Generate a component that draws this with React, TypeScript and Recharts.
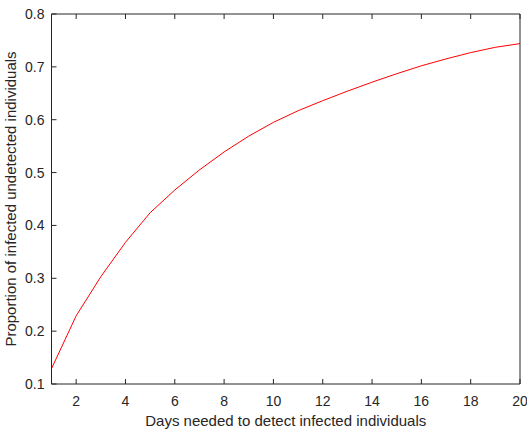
import React from 'react';
import { LineChart, Line, XAxis, YAxis } from 'recharts';

// days needed to detect, and the proportion still undetected
const days = [1, 2, 3, 4, 5, 6, 7, 8, 9, 10, 11, 12, 13, 14, 15, 16, 17, 18, 19, 20];
const proportion = [
  0.129, 0.229, 0.303, 0.368, 0.424, 0.467, 0.505, 0.539, 0.569, 0.595,
  0.617, 0.636, 0.654, 0.671, 0.687, 0.702, 0.715, 0.727, 0.737, 0.744,
];
const xTicks = [2, 4, 6, 8, 10, 12, 14, 16, 18, 20];
const yTicks = [0.1, 0.2, 0.3, 0.4, 0.5, 0.6, 0.7, 0.8];

const xLabel = 'Days needed to detect infected individuals';
const yLabel = 'Proportion of infected undetected individuals';

const data = days.map((d, i) => ({ day: d, value: proportion[i] }));

const axisColor = '#262626';
const font = '"Liberation Sans", Arial, Helvetica, sans-serif';

const YTitle = (props: any) => {
  const { x, y, height } = props.viewBox;
  const cx = x + 16;
  const cy = y + height / 2;
  return (
    <text
      x={cx}
      y={cy}
      transform={`rotate(-90 ${cx} ${cy})`}
      textAnchor="middle"
      fill={axisColor}
      fontSize={15}
      fontFamily={font}
    >
      {yLabel}
    </text>
  );
};

const XTitle = (props: any) => {
  const { x, y, width, height } = props.viewBox;
  return (
    <text
      x={x + width / 2}
      y={y + height - 3.3}
      textAnchor="middle"
      fill={axisColor}
      fontSize={15}
      fontFamily={font}
    >
      {xLabel}
    </text>
  );
};

const noTick = () => <g />;

const App = () => {
  const tickStyle = { fill: axisColor, fontSize: 14, fontFamily: font };
  const lineStyle = { stroke: axisColor, strokeWidth: 1 };

  return (
    <div style={{ position: 'absolute', left: 0, top: 0, background: '#fff' }}>
      <LineChart width={527} height={429} data={data} margin={{ top: 13, right: 6, bottom: 0, left: 0 }}>
        {/* bottom / left axes with labels, ticks pointing inward like MATLAB */}
        <XAxis
          xAxisId="bottom"
          dataKey="day"
          type="number"
          domain={[1, 20]}
          ticks={xTicks}
          height={45}
          tickSize={-5}
          tickMargin={17}
          tick={tickStyle}
          axisLine={lineStyle}
          tickLine={lineStyle}
          label={{ content: XTitle }}
        />
        <YAxis
          yAxisId="left"
          type="number"
          domain={[0.1, 0.8]}
          ticks={yTicks}
          width={51.5}
          tickSize={-5}
          tickMargin={12}
          tick={tickStyle}
          tickFormatter={(v: number) => v.toFixed(1)}
          axisLine={lineStyle}
          tickLine={lineStyle}
          label={{ content: YTitle }}
        />
        {/* box: top and right axes, ticks only */}
        <XAxis
          xAxisId="top"
          orientation="top"
          dataKey="day"
          type="number"
          domain={[1, 20]}
          ticks={xTicks}
          height={1}
          tickSize={-5}
          tick={noTick}
          axisLine={lineStyle}
          tickLine={lineStyle}
        />
        <YAxis
          yAxisId="right"
          orientation="right"
          type="number"
          domain={[0.1, 0.8]}
          ticks={yTicks}
          width={1}
          tickSize={-5}
          tick={noTick}
          axisLine={lineStyle}
          tickLine={lineStyle}
        />
        <Line
          xAxisId="bottom"
          yAxisId="left"
          type="linear"
          dataKey="value"
          stroke="#ff0000"
          strokeWidth={1}
          dot={false}
          isAnimationActive={false}
        />
      </LineChart>
    </div>
  );
};

export default App;
